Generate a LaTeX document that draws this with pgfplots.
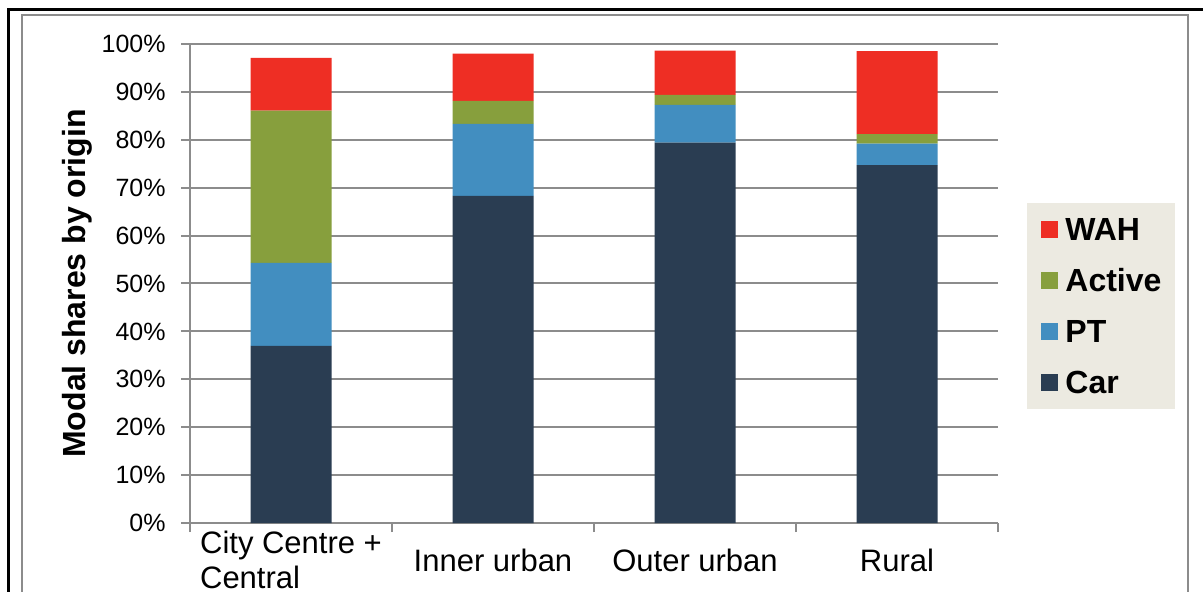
\documentclass[border=0pt]{standalone}
\usepackage{fontspec}
\setmainfont{Liberation Sans}
\usepackage{pgfplots}
\pgfplotsset{compat=1.18}
\definecolor{carc}{HTML}{2A3D52}
\definecolor{ptc}{HTML}{428EC0}
\definecolor{actc}{HTML}{879F3D}
\definecolor{wahc}{HTML}{EE2E24}
\definecolor{legbg}{HTML}{ECEAE1}
\definecolor{gridc}{HTML}{8C8C8C}
\pgfplotsset{sqleg/.style={legend image code/.code={\fill[##1] (0pt,-4.25pt) rectangle (8.5pt,4.25pt);}}}
\begin{document}
\begin{tikzpicture}
\useasboundingbox (0,0) rectangle (601.5pt,-296pt);
\clip (0,0) rectangle (601.5pt,-296pt);
\fill[white] (0,0) rectangle (601.5pt,-296pt);
\draw[black, line width=1.5pt] (4.25pt,-310pt) -- (4.25pt,-5pt) -- (610pt,-5pt);
\draw[gridc, line width=1pt] (11pt,-310pt) -- (11pt,-7.5pt) -- (594pt,-7.5pt) -- (594pt,-310pt);
\begin{axis}[
  at={(95pt,-261.5pt)}, anchor=south west,
  scale only axis, width=404pt, height=239.5pt,
  ybar stacked, bar width=40.5pt,
  xmin=-0.5, xmax=3.5, ymin=0, ymax=100,
  axis lines*=left,
  axis line style={gridc, line width=1pt},
  ymajorgrids, grid style={gridc, line width=1pt},
  tick align=outside, major tick length=4.5pt,
  tick style={gridc, line width=1pt},
  ytick={0,10,...,100},
  yticklabels={0\%,10\%,20\%,30\%,40\%,50\%,60\%,70\%,80\%,90\%,100\%},
  yticklabel style={font=\fontsize{12.5}{15}\selectfont, inner sep=0pt, anchor=east, xshift=-7.5pt},
  xtick={-0.5,0.5,1.5,2.5,3.5},
  xticklabels={,,,,},
  extra x ticks={0,1,2,3},
  extra x tick labels={{City Centre +\\Central},{Inner urban},{Outer urban},{Rural}},
  extra x tick style={major tick length=0pt, grid=none},
  xticklabel style={font=\fontsize{15.5}{17.5}\selectfont, align=left, anchor=center, yshift=-18.5pt, inner sep=0pt},
  ylabel={Modal shares by origin},
  ylabel style={font=\fontsize{16}{19}\selectfont\bfseries, at={(axis description cs:-0.14,0.5)}, anchor=center},
  legend style={at={(axis description cs:1.0359,0.668)}, anchor=north west, draw=none, fill=legbg,
    inner xsep=7pt, inner ysep=4pt, row sep=7pt, column sep=3.5pt,
    font=\fontsize{16}{19}\selectfont\bfseries,
    nodes={inner sep=0pt, text height=14.75pt, text depth=3.75pt}},
  legend cell align=left,
  reverse legend,
]
\addplot[fill=carc, draw=none, sqleg] coordinates {(0,37.0) (1,68.3) (2,79.4) (3,74.7)};
\addplot[fill=ptc, draw=none, sqleg] coordinates {(0,17.3) (1,15.0) (2,7.9) (3,4.5)};
\addplot[fill=actc, draw=none, sqleg] coordinates {(0,31.8) (1,4.8) (2,2.1) (3,2.0)};
\addplot[fill=wahc, draw=none, sqleg] coordinates {(0,11.0) (1,9.9) (2,9.2) (3,17.3)};
\legend{Car,PT,Active,WAH}
\end{axis}
\end{tikzpicture}
\end{document}
